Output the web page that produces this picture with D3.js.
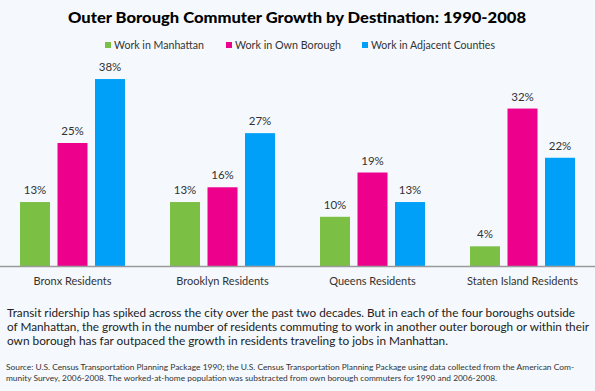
<!DOCTYPE html>
<html>
<head>
<meta charset="utf-8">
<script src="https://cdn.jsdelivr.net/npm/d3@7"></script>
<style>
  html, body { margin: 0; padding: 0; background: #f5f9fd; }
  svg { display: block; }
</style>
</head>
<body>
<svg id="chart" width="595" height="391"></svg>
<script>
const categories = ["Bronx Residents", "Brooklyn Residents", "Queens Residents", "Staten Island Residents"];
const seriesNames = ["Work in Manhattan", "Work in Own Borough", "Work in Adjacent Counties"];
const manhattan = [13, 13, 10, 4];
const ownBorough = [25, 16, 19, 32];
const adjacent = [38, 27, 13, 22];
const seriesColors = ["#7bbf45", "#ec008c", "#00a0f8"];
const title = "Outer Borough Commuter Growth by Destination: 1990-2008";
const paragraph = [
  "Transit ridership has spiked across the city over the past two decades. But in each of the four boroughs outside",
  "of Manhattan, the growth in the number of residents commuting to work in another outer borough or within their",
  "own borough has far outpaced the growth in residents traveling to jobs in Manhattan."
];
const source = [
  "Source: U.S. Census Transportation Planning Package 1990; the U.S. Census Transportation Planning Package using data collected from the American Com-",
  "munity Survey, 2006-2008. The worked-at-home population was substracted from own borough commuters for 1990 and 2006-2008."
];

const values = [manhattan, ownBorough, adjacent];
const font = "Lato, 'Open Sans', sans-serif";
const svg = d3.select("#chart");

const x0 = d3.scaleBand().domain(categories).range([-2.5, 597.5]).padding(0);
const x1 = d3.scaleBand().domain(seriesNames).range([22.5, 127.5]).paddingInner(0.2);
const y = d3.scaleLinear().domain([0, 40]).range([266, 266 - 40 * 4.92]);

// title
svg.append("text")
  .attr("x", 68).attr("y", 22.5)
  .attr("textLength", 458).attr("lengthAdjust", "spacingAndGlyphs")
  .style("font-family", font).style("font-weight", 900).style("font-size", "15.5px")
  .attr("fill", "#000").text(title);

// legend
const legendX = [105, 226, 362];
const legendW = [90, 106, 124];
seriesNames.forEach((s, i) => {
  svg.append("rect").attr("x", legendX[i]).attr("y", 42).attr("width", 6).attr("height", 6)
    .attr("fill", seriesColors[i]);
  svg.append("text").attr("x", legendX[i] + 9).attr("y", 48.5)
    .attr("textLength", legendW[i]).attr("lengthAdjust", "spacingAndGlyphs")
    .style("font-family", font).style("font-size", "11px").attr("fill", "#333").text(s);
});

// bars
const groups = svg.append("g").selectAll("g").data(categories).join("g")
  .attr("transform", d => `translate(${x0(d)},0)`);

groups.each(function(cat, ci) {
  const g = d3.select(this);
  seriesNames.forEach((s, si) => {
    const v = values[si][ci];
    g.append("rect")
      .attr("x", x1(s)).attr("y", y(v))
      .attr("width", x1.bandwidth()).attr("height", y(0) - y(v))
      .attr("fill", seriesColors[si]);
    g.append("text")
      .attr("x", x1(s) + x1.bandwidth() / 2).attr("y", y(v) - 8)
      .attr("text-anchor", "middle")
      .style("font-family", font).style("font-size", "11.5px").attr("fill", "#333")
      .text(v + "%");
  });
});

// axis line + category labels
const axis = d3.axisBottom(x0).tickSize(0).tickPadding(0);
const axG = svg.append("g").attr("transform", `translate(0,${y(0)})`).call(axis);
axG.select(".domain").attr("stroke", "#9a9a9a").attr("stroke-width", 1.5).attr("d", "M0,0.5H595");
axG.selectAll(".tick text")
  .attr("y", 19).attr("dy", 0)
  .style("font-family", font).style("font-size", "11px").attr("fill", "#333");

// paragraph
const pW = [568, 582, 441];
paragraph.forEach((line, i) => {
  svg.append("text").attr("x", 7).attr("y", 316.5 + i * 14)
    .attr("textLength", pW[i]).attr("lengthAdjust", "spacingAndGlyphs")
    .style("font-family", font).style("font-size", "11.8px").attr("fill", "#222").text(line);
});

// source
const sW = [568, 491];
source.forEach((line, i) => {
  svg.append("text").attr("x", 6).attr("y", 370 + i * 10.5)
    .attr("textLength", sW[i]).attr("lengthAdjust", "spacingAndGlyphs")
    .style("font-family", font).style("font-size", "8.3px").attr("fill", "#333").text(line);
});
</script>
</body>
</html>
